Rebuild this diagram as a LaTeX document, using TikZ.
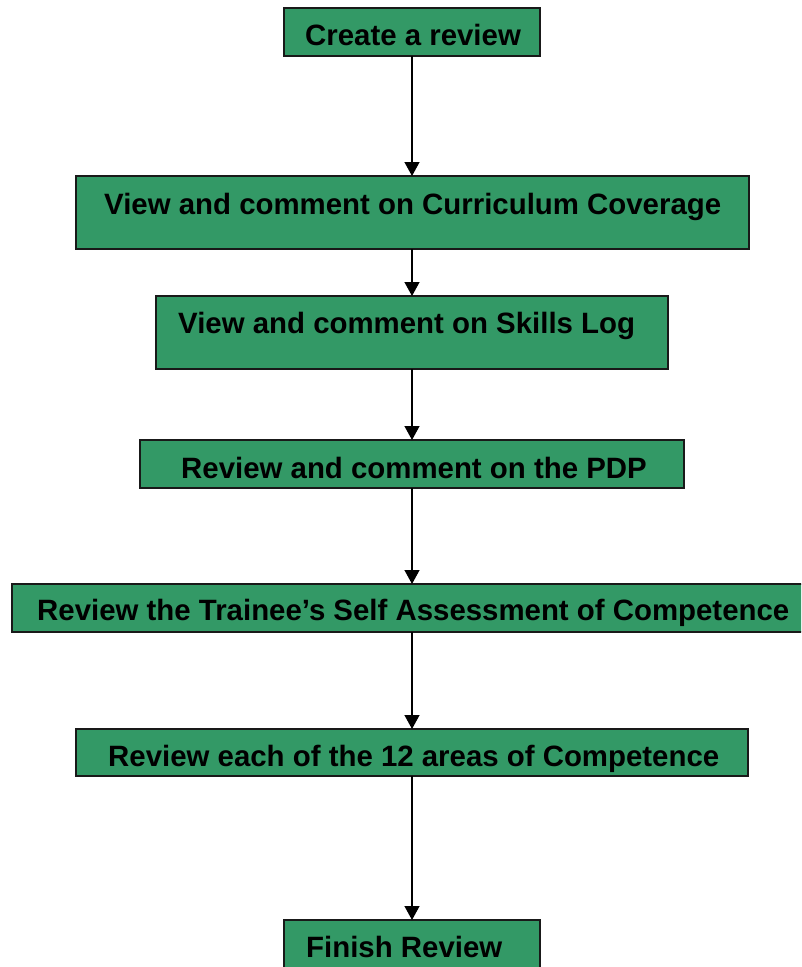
\documentclass[tikz,border=0pt]{standalone}
\usepackage{fontspec}
\setmainfont{Liberation Sans}
\usetikzlibrary{arrows.meta}
\definecolor{boxgreen}{HTML}{339966}
\begin{document}
\begin{tikzpicture}[x=1pt,y=-1pt,
  stepbox/.style={draw=black!90,line width=1.3pt,fill=boxgreen,inner sep=0pt,outer sep=0pt},
  lbl/.style={anchor=base west,inner sep=0pt,font=\fontsize{29.4}{34}\selectfont\bfseries},
  arr/.style={line width=1.3pt,-{Triangle[width=15pt,length=14pt]}}]
\useasboundingbox (0,0) rectangle (801,967);
\clip (0,0) rectangle (801,967);
\node[stepbox,minimum width=256pt,minimum height=48pt] (b1) at (412,32) {};
\node[stepbox,minimum width=673pt,minimum height=73pt] (b2) at (412.5,212.5) {};
\node[stepbox,minimum width=512pt,minimum height=73pt] (b3) at (412,332.5) {};
\node[stepbox,minimum width=544pt,minimum height=48pt] (b4) at (412,464) {};
\node[stepbox,minimum width=792pt,minimum height=48pt] (b5) at (408,608) {};
\node[stepbox,minimum width=672pt,minimum height=47pt] (b6) at (412,752.5) {};
\node[stepbox,minimum width=256pt,minimum height=52pt] (b7) at (412,946) {};
\node[lbl] (t1) at (305,45) {Create a review};
\node[lbl] (t2) at (104,214) {View and comment on Curriculum Coverage};
\node[lbl] (t3) at (178,333) {View and comment on Skills Log};
\node[lbl] (t4) at (181,478) {Review and comment on the PDP};
\node[lbl] (t5) at (37,620) {Review the Trainee’s Self Assessment of Competence};
\node[lbl] (t6) at (108,766) {Review each of the 12 areas of Competence};
\node[lbl] (t7) at (306,957) {Finish Review};
\draw[arr] (b1.south) -- (b2.north -| b1.south);
\draw[arr] (b2.south -| b1.south) -- (b3.north -| b1.south);
\draw[arr] (b3.south -| b1.south) -- (b4.north -| b1.south);
\draw[arr] (b4.south -| b1.south) -- (b5.north -| b1.south);
\draw[arr] (b5.south -| b1.south) -- (b6.north -| b1.south);
\draw[arr] (b6.south -| b1.south) -- (b7.north -| b1.south);
\end{tikzpicture}
\end{document}
